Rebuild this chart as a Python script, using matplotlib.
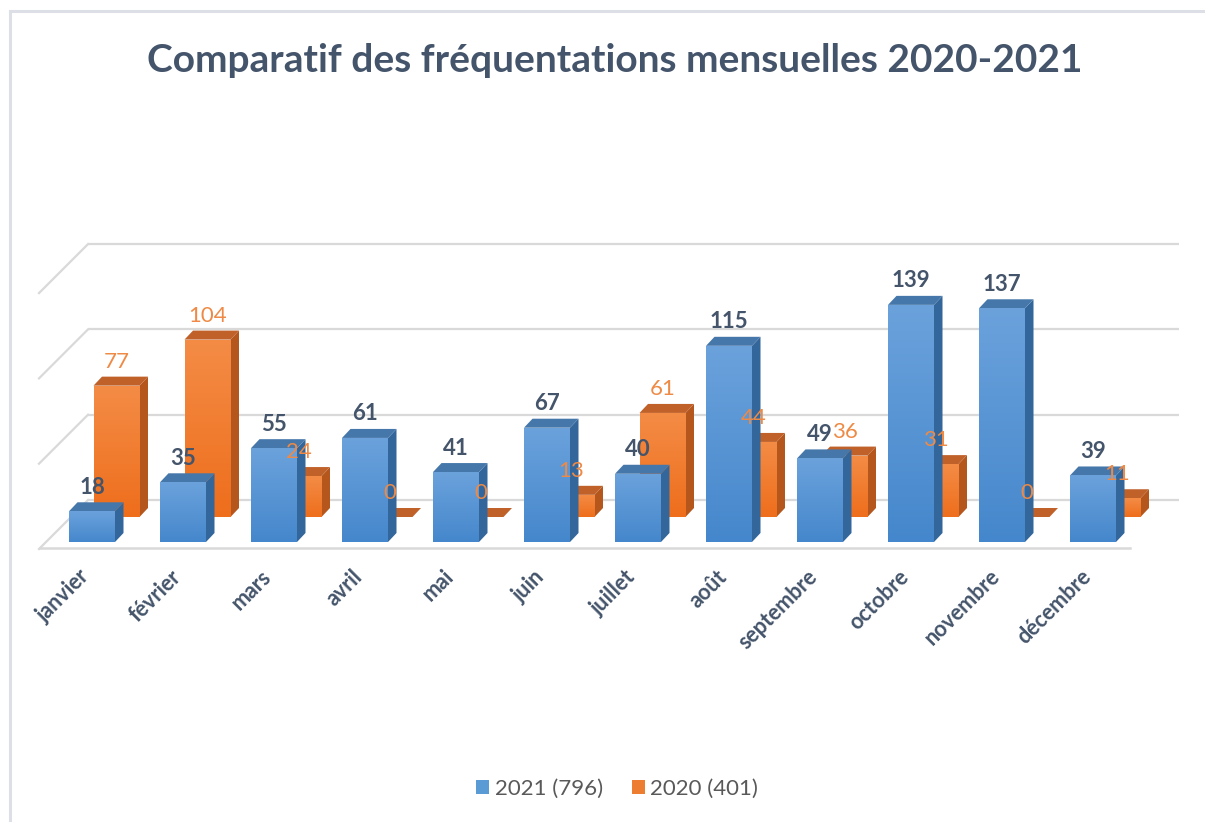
import numpy as np
import matplotlib
matplotlib.use('Agg')
import matplotlib.pyplot as plt
from matplotlib.patches import Polygon, Patch
from matplotlib.colors import LinearSegmentedColormap
from matplotlib.lines import Line2D

# ---------------- data ----------------
months = ['janvier', 'février', 'mars', 'avril', 'mai', 'juin', 'juillet',
          'août', 'septembre', 'octobre', 'novembre', 'décembre']
visits_2021 = [18, 35, 55, 61, 41, 67, 40, 115, 49, 139, 137, 39]
visits_2020 = [77, 104, 24, 0, 0, 13, 61, 44, 36, 31, 0, 11]
legend_labels = ['2021 (796)', '2020 (401)']
grid_values = [0, 50, 100, 150]
title = 'Comparatif des fréquentations mensuelles 2020-2021'

# ---------------- layout constants ----------------
W, H = 1205, 822
PX_CAT = 91.0      # pixels per category
PX_VAL = 1.706     # pixels per value unit
X0_PX = 92.0       # pixel of first front bar center
Y0_PX = 542.0      # pixel (from top) of front baseline

FONT = 'Lato'
DARK = '#44546A'

def px2x(px):
    return (px - X0_PX) / PX_CAT

def py2y(py):
    return (Y0_PX - py) / PX_VAL

def dyv(px):
    return px / PX_VAL

def dxc(px):
    return px / PX_CAT

fig = plt.figure(figsize=(W / 100, H / 100), dpi=100)
ax = fig.add_axes([0, 0, 1, 1])
ax.axis('off')

# ---------------- walls / gridlines ----------------
grid_c = '#D9D9D9'
wall0 = py2y(500)
for g in grid_values:
    y = wall0 + g
    ax.plot([px2x(88), px2x(1179)], [y, y], color=grid_c, lw=1.6, zorder=1,
            solid_capstyle='butt')
    ax.plot([px2x(88), px2x(39)], [y, y - dyv(49)], color=grid_c, lw=1.6,
            zorder=1)
ax.plot([px2x(40), px2x(1130)], [py2y(548), py2y(548)], color=grid_c, lw=1.8,
        zorder=1)

# ---------------- 3D bars ----------------
BAR_W = dxc(46)
DEP_X = dxc(8.5)
DEP_Y = dyv(9)

def draw_bars(xs, vals, bottom, c_bot, c_top, c_side, c_roof, z, label):
    cmap = LinearSegmentedColormap.from_list('g', [c_bot, c_top])
    bars = ax.bar(xs, vals, width=BAR_W, bottom=bottom, color=c_bot,
                  linewidth=0, zorder=z, label=label)
    grad = np.linspace(0, 1, 256).reshape(-1, 1)
    for p, v in zip(bars.patches, vals):
        x0 = p.get_x()
        x1 = x0 + p.get_width()
        y0 = bottom
        y1 = bottom + v
        if v > 0:
            im = ax.imshow(grad, extent=[x0, x1, y0, y1], origin='lower',
                           cmap=cmap, aspect='auto', zorder=z + 0.01,
                           interpolation='bilinear')
            im.set_clip_path(p)
            side = Polygon([(x1, y0), (x1 + DEP_X, y0 + DEP_Y),
                            (x1 + DEP_X, y1 + DEP_Y), (x1, y1)],
                           closed=True, facecolor=c_side, edgecolor='none',
                           zorder=z)
            ax.add_patch(side)
        roof = Polygon([(x0, y1), (x1, y1), (x1 + DEP_X, y1 + DEP_Y),
                        (x0 + DEP_X, y1 + DEP_Y)], closed=True,
                       facecolor=c_roof, edgecolor='none', zorder=z)
        ax.add_patch(roof)
    return bars

idx = np.arange(len(months))
ROW_DX = dxc(24.5)
ROW_DY = dyv(25)

b20 = draw_bars(idx + ROW_DX, visits_2020, ROW_DY,
                '#EE6E1C', '#F48C46', '#B5561C', '#C0612A', 3, legend_labels[1])
b21 = draw_bars(idx, visits_2021, 0,
                '#4587CC', '#6BA2DC', '#33679C', '#4677AA', 5, legend_labels[0])

# ---------------- value labels ----------------
for i, v in enumerate(visits_2021):
    ax.text(i, v + dyv(24), str(v), ha='center', va='center', fontsize=16,
            fontweight='bold', color=DARK, family=FONT, zorder=10)
for i, v in enumerate(visits_2020):
    ax.text(i + ROW_DX, ROW_DY + v + dyv(24), str(v), ha='center',
            va='center', fontsize=16, color='#EE8A45', family=FONT,
            zorder=10)

# ---------------- category labels ----------------
for i, m in enumerate(months):
    ax.text(i + 0.02, py2y(566), m, rotation=45, ha='right', va='top',
            fontsize=15.5, fontweight='bold', color=DARK, family=FONT)

# ---------------- title ----------------
fig.text(615 / W, 1 - 60 / H, title, ha='center', va='center', fontsize=28,
         fontweight='bold', color=DARK, family=FONT)

# ---------------- legend ----------------
handles = [Patch(facecolor='#5B9BD5', label=legend_labels[0]),
           Patch(facecolor='#ED7D31', label=legend_labels[1])]
leg = ax.legend(handles=handles, loc='center', ncol=2, frameon=False,
                bbox_to_anchor=(617 / W, 1 - 789 / H),
                bbox_transform=fig.transFigure,
                prop={'family': FONT, 'size': 16}, handlelength=0.6,
                handleheight=0.6, handletextpad=0.25, columnspacing=1.3,
                labelcolor='#595959')

# ---------------- frame ----------------
frame_c = '#DCE0E6'
fig.add_artist(Line2D([9.5 / W, 9.5 / W], [0, 1 - 11 / H], color=frame_c,
                      lw=2.2, transform=fig.transFigure))
fig.add_artist(Line2D([9.5 / W, 1], [1 - 11 / H, 1 - 11 / H], color=frame_c,
                      lw=2.2, transform=fig.transFigure))

ax.set_xlim(px2x(0), px2x(W))
ax.set_ylim(py2y(H), py2y(0))

fig.savefig('out.png', dpi=100, facecolor='white')
